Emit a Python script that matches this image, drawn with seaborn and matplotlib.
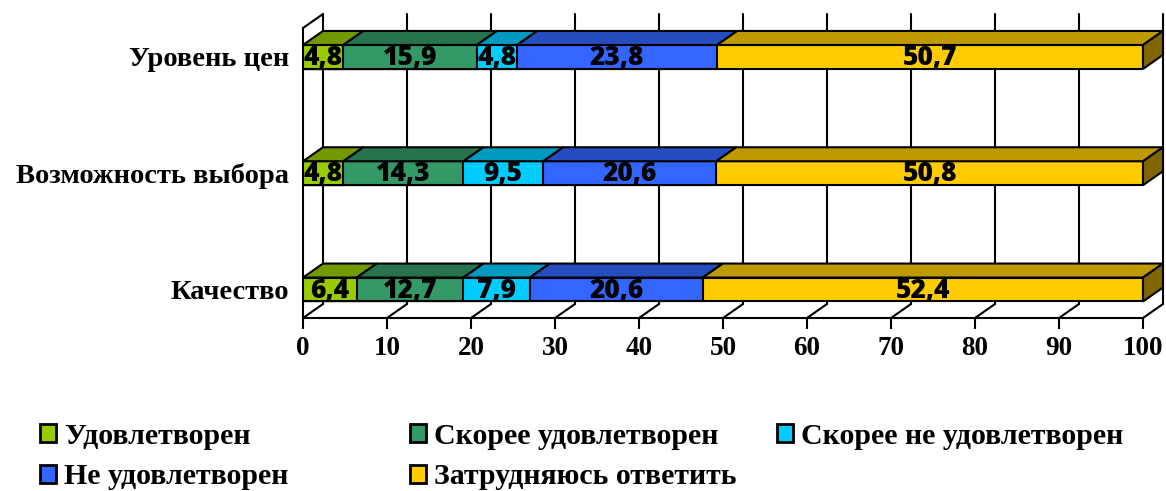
import numpy as np
import pandas as pd
import matplotlib.pyplot as plt
import seaborn as sns
from matplotlib.patches import Patch
from matplotlib.colors import to_rgb

categories = ["Уровень цен", "Возможность выбора", "Качество"]
series = ["Удовлетворен", "Скорее удовлетворен", "Скорее не удовлетворен",
          "Не удовлетворен", "Затрудняюсь ответить"]
udovl = [4.8, 4.8, 6.4]
skoree_udovl = [15.9, 14.3, 12.7]
skoree_ne = [4.8, 9.5, 7.9]
ne_udovl = [23.8, 20.6, 20.6]
zatr = [50.7, 50.8, 52.4]
colors = ["#99CC00", "#339966", "#00CCFF", "#3366FF", "#FFCC00"]

values = np.array([udovl, skoree_udovl, skoree_ne, ne_udovl, zatr])  # series x category
cum = values.cumsum(axis=0)
left = cum - values

sns.set_style("white")
plt.rcParams.update({"text.color": "black", "xtick.color": "black",
                     "ytick.color": "black", "axes.labelcolor": "black"})
serif = "Liberation Serif"
label_font = "Open Sans"

fig = plt.figure(figsize=(11.66, 4.91), dpi=100)
ax = fig.add_axes([303 / 1166, 173 / 491, 840 / 1166, 290 / 491])

bar_h = 0.206
ddx = 20 / 8.4          # depth offset in x units
ddy = 14 / 116.3        # depth offset in y units (upwards)
y_top, y_bot = -0.249, 2.245

# back wall grid, floor diagonals, left wall
for x in range(0, 101, 10):
    ax.plot([x + ddx, x + ddx], [y_top - ddy, y_bot - ddy], color="black", lw=1.5,
            zorder=0, clip_on=False)
    ax.plot([x, x + ddx], [y_bot, y_bot - ddy], color="black", lw=1.5,
            zorder=0, clip_on=False)
ax.plot([0, ddx], [y_top, y_top - ddy], color="black", lw=1.5, zorder=0, clip_on=False)

# stacked bars: draw cumulative totals from largest to smallest
for j in range(len(series) - 1, -1, -1):
    df = pd.DataFrame({"cat": categories, "val": cum[j]})
    sns.barplot(data=df, x="val", y="cat", order=categories, orient="h",
                color=colors[j], saturation=1, width=bar_h, edgecolor="black",
                linewidth=1.5, ax=ax, zorder=2)

# 3D top faces and side face
for i in range(len(categories)):
    yt = i - bar_h / 2
    for j in range(len(series)):
        L, R = left[j, i], cum[j, i]
        dark = tuple(c * 0.75 for c in to_rgb(colors[j]))
        ax.fill([L, R, R + ddx, L + ddx], [yt, yt, yt - ddy, yt - ddy],
                facecolor=dark, edgecolor="black", lw=1.5, zorder=3, clip_on=False)
        ax.text((L + R) / 2, i + 0.01, f"{values[j, i]:.1f}".replace(".", ","),
                ha="center", va="center", fontsize=19, fontweight="heavy",
                family=label_font, color="black", zorder=5)
    R = cum[-1, i]
    side = tuple(c * 0.5 for c in to_rgb(colors[-1]))
    ax.fill([R, R + ddx, R + ddx, R], [yt, yt - ddy, yt + bar_h - ddy, yt + bar_h],
            facecolor=side, edgecolor="black", lw=1.5, zorder=3, clip_on=False)

ax.set_xlim(0, 100)
ax.set_ylim(y_bot, y_top)
ax.set_xticks(range(0, 101, 10))
ax.set_xlabel("")
ax.set_ylabel("")
for s in ["top", "right"]:
    ax.spines[s].set_visible(False)
for s in ["bottom", "left"]:
    ax.spines[s].set_linewidth(1.5)
    ax.spines[s].set_color("black")
    ax.spines[s].set_zorder(1)
ax.tick_params(axis="x", direction="out", length=8, width=1.5, pad=5, bottom=True)
ax.tick_params(axis="y", length=0, pad=10)
for t in ax.get_xticklabels():
    t.set_fontfamily(serif)
    t.set_fontweight("bold")
    t.set_fontsize(19.5)
for t in ax.get_yticklabels():
    t.set_fontfamily(serif)
    t.set_fontweight("bold")
    t.set_fontsize(20.5)

# legend entries placed individually
pos = [(40, 436), (410, 436), (777, 436), (40, 477), (410, 477)]
for j, (px, py) in enumerate(pos):
    h = Patch(facecolor=colors[j], edgecolor="black", linewidth=2)
    fig.legend([h], [series[j]], loc="center left",
               bbox_to_anchor=(px / 1166, 1 - py / 491), frameon=False,
               prop={"family": serif, "weight": "bold", "size": 21.5},
               handlelength=0.55, handleheight=0.55, handletextpad=0.25,
               borderpad=0, borderaxespad=0)

fig.savefig("out.png", dpi=100)
